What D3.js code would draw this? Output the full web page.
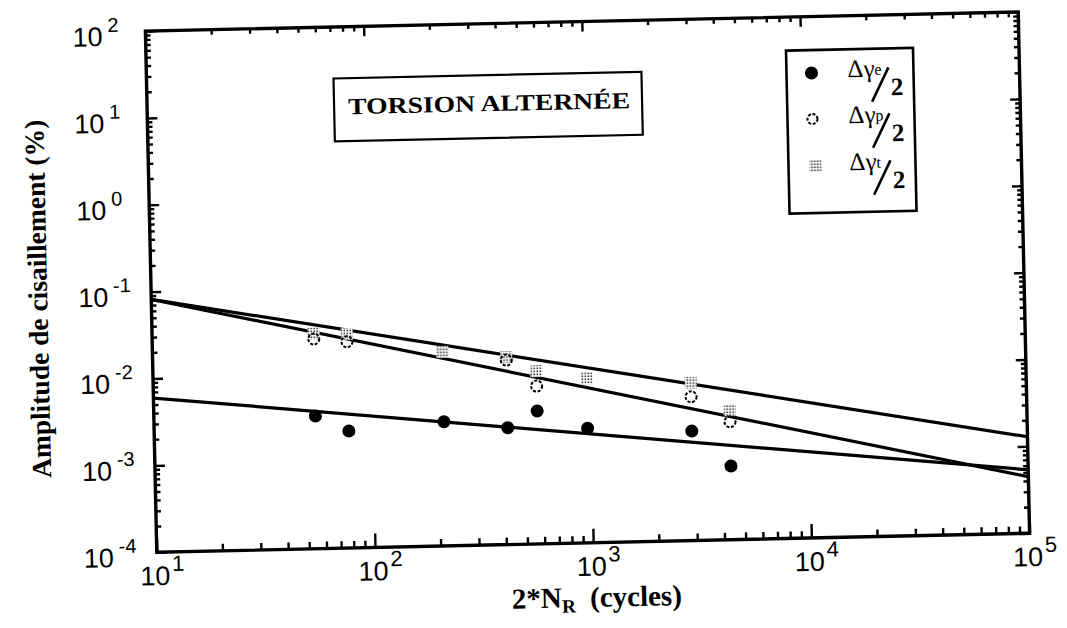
<!DOCTYPE html>
<html><head><meta charset="utf-8">
<script src="https://cdn.jsdelivr.net/npm/d3@7"></script>
<style>body{margin:0;background:#fff}svg{display:block}</style>
</head><body><svg id="c" width="1067" height="628"></svg>
<script>
// ---- data ----
const cycles       = [55, 78, 213, 417, 571, 968, 2904, 4355];
const gammaElastic = [0.00337, 0.00222, 0.00269, 0.00221, 0.00339, 0.00208, 0.00182, 0.000705];
const gammaPlastic = [0.0260, 0.0237, null, 0.0133, 0.00656, null, 0.00452, 0.00228];
const gammaTotal   = [0.0300, 0.0290, 0.0171, 0.0144, 0.00977, 0.00783, 0.00652, 0.00311];
const fitCycles    = [10, 100000];
const fitTotal     = [0.0815, 0.00129];
const fitPlastic   = [0.0813, 0.000447];
const fitElastic   = [0.00596, 0.000537];
const xTickExps    = [1, 2, 3, 4, 5];
const yTickExps    = [-4, -3, -2, -1, 0, 1, 2];
const legendSubs   = ["e", "p", "t"];
const titleText    = "TORSION  ALTERNÉE";
const xTitle       = ["2*N", "R", "  (cycles)"];
const yTitle       = "Amplitude de cisaillement (%)";

// ---- layout ----
const L = 151, R = 1024, T = 21.5, B = 542.8;
const svg = d3.select("#c");
const defs = svg.append("defs");
const pat = defs.append("pattern").attr("id","stip").attr("patternUnits","userSpaceOnUse")
  .attr("width",3).attr("height",3);
pat.append("rect").attr("width",3).attr("height",3).attr("fill","#fff");
pat.append("rect").attr("x",0.5).attr("y",0.5).attr("width",1.6).attr("height",1.6).attr("fill","#333");

const g = svg.append("g").attr("transform","rotate(-1.25,587.5,282.25)");

const x = d3.scaleLog().domain([10, 1e5]).range([L, R]);
const y = d3.scaleLog().domain([1e-4, 1e2]).range([B, T]);

const majX = xTickExps.map(e => Math.pow(10, e));
const majY = yTickExps.map(e => Math.pow(10, e));
const minor = (lo, hi) => { const a=[]; for (let e=lo; e<hi; e++) for (let m=2; m<10; m++) a.push(m*Math.pow(10,e)); return a; };
const minX = minor(1, 5), minY = minor(-4, 2);

function ax(gen, vals, size, tr) {
  const a = g.append("g").attr("transform", tr)
    .call(gen.tickValues(vals).tickSize(size).tickFormat(""));
  a.select(".domain").remove();
  a.selectAll("line").attr("stroke","#000").attr("stroke-width",2.4);
}
ax(d3.axisBottom(x), majX, -14, `translate(0,${B})`);
ax(d3.axisBottom(x), minX, -7, `translate(0,${B})`);
ax(d3.axisTop(x), majX, -10, `translate(0,${T})`);
ax(d3.axisTop(x), minX, -5, `translate(0,${T})`);
ax(d3.axisLeft(y), majY, -10, `translate(${L},0)`);
ax(d3.axisLeft(y), minY, -5, `translate(${L},0)`);
ax(d3.axisRight(y), majY, -10, `translate(${R},0)`);
ax(d3.axisRight(y), minY, -5, `translate(${R},0)`);

g.append("rect").attr("x",L).attr("y",T).attr("width",R-L).attr("height",B-T)
  .attr("fill","none").attr("stroke","#000").attr("stroke-width",3.4);

// tick labels
const sans = "'Liberation Sans', Arial, Helvetica, sans-serif";
xTickExps.forEach(e => {
  const px = x(Math.pow(10, e));
  g.append("text").attr("x", px - 2).attr("y", B + 33).attr("text-anchor","middle")
    .attr("font-family", sans).attr("font-size", 27).text("10");
  g.append("text").attr("x", px + 15).attr("y", B + 19)
    .attr("font-family", sans).attr("font-size", 22).text(e);
});
yTickExps.forEach(e => {
  const py = y(Math.pow(10, e));
  g.append("text").attr("x", 108).attr("y", py + 14).attr("text-anchor","end")
    .attr("font-family", sans).attr("font-size", 27).text("10");
  g.append("text").attr("x", 113).attr("y", py)
    .attr("font-family", sans).attr("font-size", 20).text(e);
});

// fit lines
const lineGen = d3.line().x(d => x(d[0])).y(d => y(d[1]));
[fitTotal, fitPlastic, fitElastic].forEach(f => {
  g.append("path").attr("d", lineGen(fitCycles.map((c,i) => [c, f[i]])))
    .attr("fill","none").attr("stroke","#000").attr("stroke-width",3.2);
});

// markers
const tot = cycles.map((c,i) => [c, gammaTotal[i]]).filter(d => d[1] != null);
const pla = cycles.map((c,i) => [c, gammaPlastic[i]]).filter(d => d[1] != null);
const ela = cycles.map((c,i) => [c, gammaElastic[i]]).filter(d => d[1] != null);
g.selectAll(".tot").data(tot).enter().append("rect")
  .attr("x", d => x(d[0]) - 6).attr("y", d => y(d[1]) - 6).attr("width",12).attr("height",12)
  .attr("fill","url(#stip)");
g.selectAll(".pla").data(pla).enter().append("circle")
  .attr("cx", d => x(d[0])).attr("cy", d => y(d[1])).attr("r",5.5)
  .attr("fill","none").attr("stroke","#000").attr("stroke-width",2).attr("stroke-dasharray","3,1.6");
g.selectAll(".ela").data(ela).enter().append("circle")
  .attr("cx", d => x(d[0])).attr("cy", d => y(d[1])).attr("r",6.5).attr("fill","#000");

// title box
const serif = "'Liberation Serif', 'Times New Roman', Times, serif";
g.append("rect").attr("x",338).attr("y",73).attr("width",308).attr("height",63)
  .attr("fill","#fff").attr("stroke","#000").attr("stroke-width",2.2);
g.append("text").attr("x",352).attr("y",109).attr("textLength",282).attr("lengthAdjust","spacingAndGlyphs")
  .attr("font-family",serif).attr("font-weight","bold").attr("font-size",23).text(titleText);

// legend
g.append("rect").attr("x",791).attr("y",55).attr("width",127).attr("height",163)
  .attr("fill","#fff").attr("stroke","#000").attr("stroke-width",2.6);
const rowsY = [78, 124, 171];
rowsY.forEach((my, i) => {
  if (i === 0) g.append("circle").attr("cx",816).attr("cy",my).attr("r",6.5).attr("fill","#000");
  if (i === 1) g.append("circle").attr("cx",816).attr("cy",my).attr("r",5).attr("fill","#fff")
      .attr("stroke","#000").attr("stroke-width",2).attr("stroke-dasharray","3,1.6");
  if (i === 2) g.append("rect").attr("x",812).attr("y",my-6).attr("width",12).attr("height",12).attr("fill","url(#stip)");
  const x0 = 852;
  g.append("text").attr("x",x0).attr("y",my+5).attr("font-family",serif).attr("font-size",25).text("Δγ");
  g.append("text").attr("x",x0+27).attr("y",my+3).attr("font-family",serif).attr("font-size",16).text(legendSubs[i]);
  g.append("line").attr("x1",x0+24).attr("y1",my+30).attr("x2",x0+41).attr("y2",my-4)
    .attr("stroke","#000").attr("stroke-width",2.6);
  g.append("text").attr("x",x0+43).attr("y",my+24).attr("font-family",serif).attr("font-weight","bold")
    .attr("font-size",25).text("2");
});

// axis titles
const xt = g.append("text").attr("x",590).attr("y",607).attr("text-anchor","middle")
  .attr("font-family",serif).attr("font-weight","bold").attr("font-size",29);
xt.append("tspan").text(xTitle[0]);
xt.append("tspan").attr("font-size",19).attr("dy",5).text(xTitle[1]);
xt.append("tspan").attr("dy",-5).attr("xml:space","preserve").text(xTitle[2]);
g.append("text").attr("transform","translate(47,287) rotate(-90)").attr("text-anchor","middle")
  .attr("font-family",serif).attr("font-weight","bold").attr("font-size",27.5).text(yTitle);
</script></body></html>
